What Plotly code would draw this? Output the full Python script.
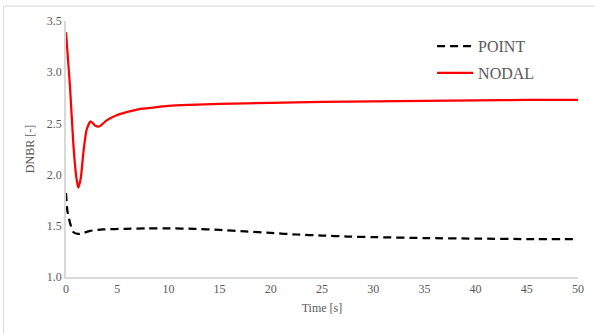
import plotly.graph_objects as go

# NODAL series (time [s], DNBR)
t_nodal = [0.0, 0.39, 0.71, 1.0, 1.2, 1.45, 1.69, 2.02, 2.41, 2.83, 3.25, 3.97, 4.95, 5.92, 7.16,
           8.5, 10.0, 12.0, 15.0, 20.0, 25.0, 30.0, 35.0, 40.0, 45.0, 50.0]
dnbr_nodal = [3.39, 2.86, 2.31, 1.98, 1.87, 1.97, 2.21, 2.44, 2.52, 2.48, 2.47, 2.53, 2.58, 2.61, 2.64,
              2.655, 2.67, 2.68, 2.69, 2.70, 2.71, 2.715, 2.72, 2.725, 2.73, 2.73]

# POINT series (time [s], DNBR)
t_point = [0.0, 0.13, 0.39, 0.71, 1.2, 1.7, 2.34, 3.6, 5.9, 8.0, 10.0, 12.5, 15.0, 17.5, 20.0,
           22.5, 25.0, 27.5, 30.0, 35.0, 40.0, 45.0, 50.0]
dnbr_point = [1.82, 1.65, 1.53, 1.44, 1.42, 1.43, 1.45, 1.465, 1.47, 1.475, 1.475, 1.47, 1.46, 1.445, 1.43,
              1.415, 1.405, 1.395, 1.39, 1.38, 1.375, 1.37, 1.37]

x_ticks = [0, 5, 10, 15, 20, 25, 30, 35, 40, 45, 50]
y_ticks = [1.0, 1.5, 2.0, 2.5, 3.0, 3.5]
y_tick_labels = ["1.0", "1.5", "2.0", "2.5", "3.0", "3.5"]

FONT = "Liberation Serif"
GREY = "#595959"
AXIS = "#d9d9d9"

fig = go.Figure()
fig.add_trace(go.Scatter(x=t_point, y=dnbr_point, mode="lines", name="POINT",
                         line=dict(color="black", width=2.25, dash="8px,5px", shape="spline", smoothing=0.6),
                         legendgroup="a"))
fig.add_trace(go.Scatter(x=t_nodal, y=dnbr_nodal, mode="lines", name="NODAL",
                         line=dict(color="#ff0000", width=2.25, shape="spline", smoothing=0.6),
                         legendgroup="b"))

fig.update_layout(
    width=595, height=334,
    margin=dict(l=66, r=17, t=21, b=57),
    paper_bgcolor="white", plot_bgcolor="white",
    font=dict(family=FONT, color=GREY, size=12),
    showlegend=True,
    legend=dict(x=0.715, y=0.968, xanchor="left", yanchor="top",
                font=dict(family=FONT, size=16, color=GREY),
                bgcolor="rgba(0,0,0,0)", tracegroupgap=3, itemwidth=36),
    xaxis=dict(range=[0, 50], tickvals=x_ticks, showgrid=False, zeroline=False,
               showline=True, linecolor=AXIS, linewidth=1.5, ticks="",
               tickfont=dict(family=FONT, size=12, color=GREY),
               title=dict(text="Time [s]", font=dict(family=FONT, size=12, color=GREY), standoff=8)),
    yaxis=dict(range=[1.0, 3.5], tickvals=y_ticks, ticktext=y_tick_labels, showgrid=False, zeroline=False,
               showline=True, linecolor=AXIS, linewidth=1.5, ticks="",
               tickfont=dict(family=FONT, size=12, color=GREY),
               title=dict(text="DNBR [-]", font=dict(family=FONT, size=12, color=GREY), standoff=10)),
    shapes=[dict(type="rect", xref="paper", yref="paper", x0=-0.122, x1=1.04, y0=-0.25, y1=1.0586,
                 line=dict(color=AXIS, width=1), fillcolor="rgba(0,0,0,0)", layer="below")],
)

fig.write_html("out.html")
